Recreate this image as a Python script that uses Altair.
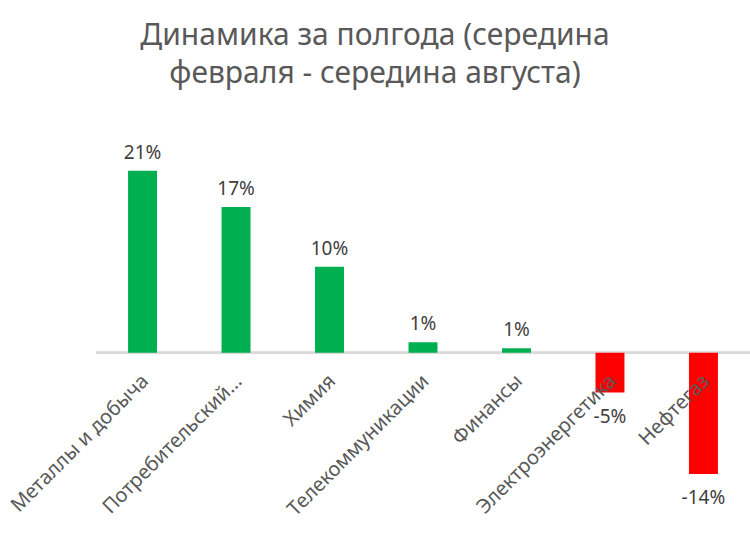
import altair as alt
import pandas as pd

categories = ["Металлы и добыча", "Потребительский...", "Химия", "Телекоммуникации",
              "Финансы", "Электроэнергетика", "Нефтегаз"]
values = [21.0, 16.8, 9.9, 1.2, 0.5, -4.6, -14.0]
value_labels = ["21%", "17%", "10%", "1%", "1%", "-5%", "-14%"]
title_lines = ["Динамика за полгода (середина", "февраля - середина августа)"]

df = pd.DataFrame({"cat": categories, "value": values, "label": value_labels,
                   "zero": [0] * len(values)})

FONT = "Noto Sans"
xscale = alt.Scale(domain=categories, paddingInner=0.69, paddingOuter=0.343)
yscale = alt.Scale(domain=[-20, 28], nice=False, zero=False)

x = alt.X("cat:N", scale=xscale, axis=None)
y = alt.Y("value:Q", scale=yscale, axis=None)

base = alt.Chart(df)

bars = base.mark_bar().encode(
    x=x, y=y, y2="zero:Q",
    color=alt.condition(alt.datum.value > 0, alt.value("#00B050"), alt.value("#FF0000")),
)

zero = base.mark_rule(color="#D9D9D9", strokeWidth=2).encode(
    y=alt.Y("zero:Q", scale=yscale, axis=None))

pos_labels = base.transform_filter(alt.datum.value > 0).mark_text(
    font=FONT, fontSize=19, color="#404040", baseline="bottom", dy=-8
).encode(x=x, y=y, text="label:N")

neg_labels = base.transform_filter(alt.datum.value <= 0).mark_text(
    font=FONT, fontSize=19, color="#404040", baseline="top", dy=15
).encode(x=x, y=y, text="label:N")

cat_labels = base.mark_text(
    font=FONT, fontSize=20, color="#595959", angle=315, align="right",
    baseline="middle", dx=-16, dy=20
).encode(x=x, y=alt.Y("zero:Q", scale=yscale, axis=None), text="cat:N")

chart = alt.layer(zero, bars, pos_labels, neg_labels, cat_labels).properties(
    width=654, height=416,
    autosize=alt.AutoSizeParams(type="none"),
    padding={"left": 96, "top": 110, "right": 0, "bottom": 22},
    title=alt.TitleParams(
        text=title_lines, font=FONT, fontSize=30, fontWeight="normal",
        color="#595959", anchor="middle", dx=-48, offset=21, lineHeight=38,
    ),
).configure_view(stroke=None)

chart.save("out.html", embed_options={"renderer": "svg", "actions": False})
